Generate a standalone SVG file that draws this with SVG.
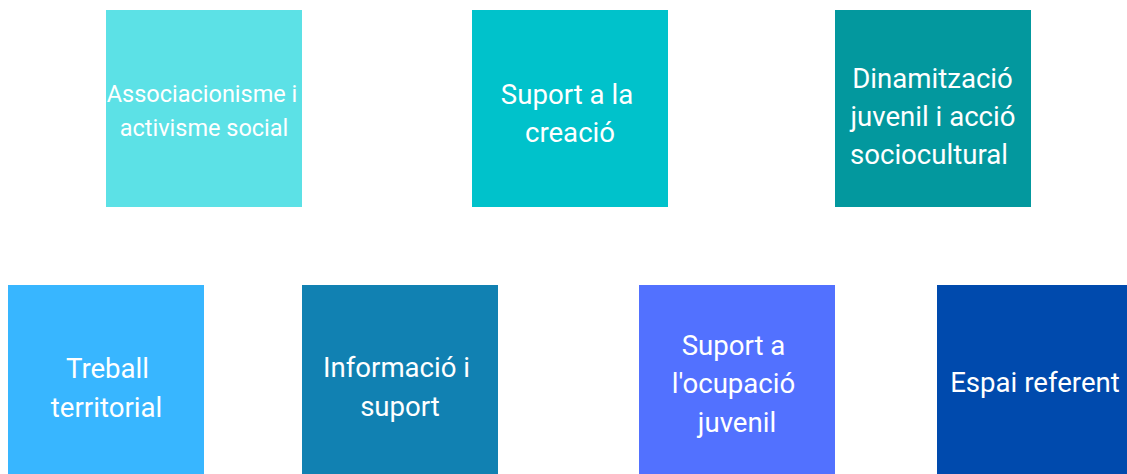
<svg xmlns="http://www.w3.org/2000/svg" width="1127" height="474" viewBox="0 0 1127 474">
<style>
text{font-family:Roboto,"Liberation Sans",sans-serif;fill:#ffffff;font-size:27.6px;font-weight:400;text-anchor:middle}
.s{font-size:23.5px}
</style>
<rect width="1127" height="474" fill="#ffffff"/>
<g id="n1"><rect x="106" y="10" width="196" height="197" fill="#5ce1e6"/>
<text class="s" x="202" y="102">Associacionisme i</text><text class="s" x="204" y="136">activisme social</text></g>
<g id="n2"><rect x="472" y="10" width="196" height="197" fill="#00c2cb"/>
<text x="567" y="104">Suport a la</text><text x="570" y="142">creació</text></g>
<g id="n3"><rect x="835" y="10" width="196" height="197" fill="#03989e"/>
<text x="932.5" y="88">Dinamització</text><text x="933" y="126">juvenil i acció</text><text x="929" y="164">sociocultural</text></g>
<g id="n4"><rect x="8" y="285" width="196" height="189" fill="#38b6ff"/>
<text x="107.5" y="378">Treball</text><text x="106.5" y="417">territorial</text></g>
<g id="n5"><rect x="302" y="285" width="196" height="189" fill="#1181b2"/>
<text x="396.5" y="377">Informació i</text><text x="400" y="416">suport</text></g>
<g id="n6"><rect x="639" y="285" width="196" height="189" fill="#5271ff"/>
<text x="733.5" y="355">Suport a</text><text x="733.5" y="393">l'ocupació</text><text x="737" y="432">juvenil</text></g>
<g id="n7"><rect x="937" y="285" width="190" height="189" fill="#004aad"/>
<text x="1035" y="392">Espai referent</text></g>
<g id="connectors"></g>
</svg>
